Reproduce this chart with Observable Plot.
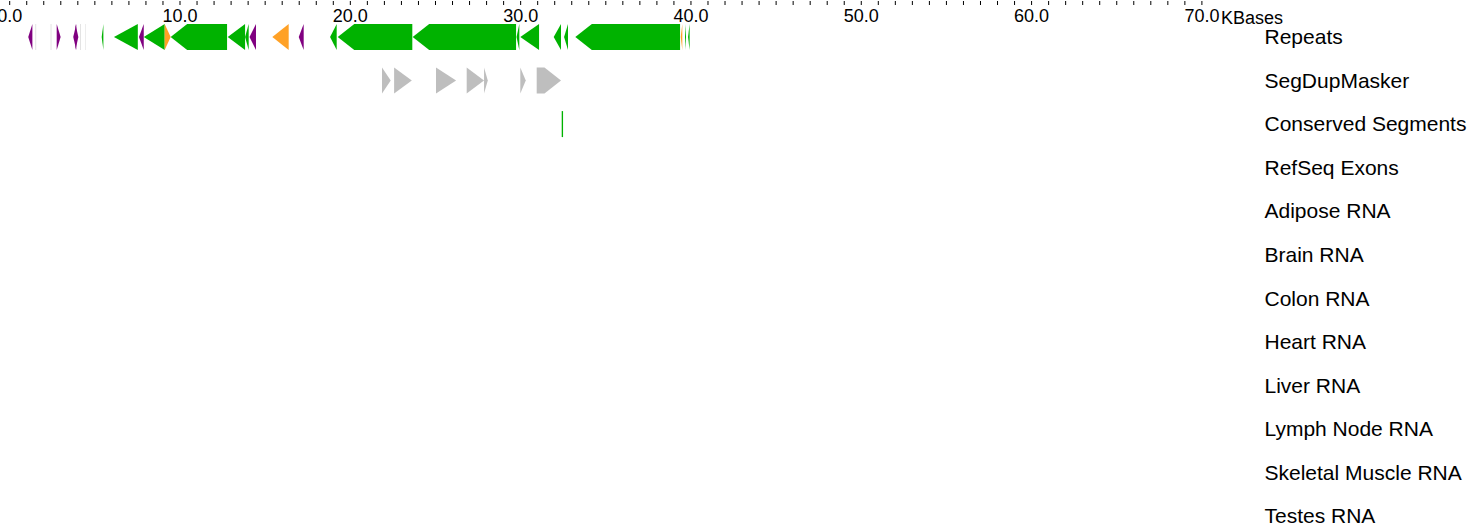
<!DOCTYPE html>
<html>
<head>
<meta charset="utf-8">
<script src="https://cdn.jsdelivr.net/npm/d3@7"></script>
<script src="https://cdn.jsdelivr.net/npm/@observablehq/plot@0.6"></script>
<style>
  html, body { margin: 0; padding: 0; background: white; }
  svg { display: block; }
</style>
</head>
<body>
<div id="chart"></div>
<script>
// Track names (right-hand labels)
const tracks = ["Repeats", "SegDupMasker", "Conserved Segments", "RefSeq Exons",
  "Adipose RNA", "Brain RNA", "Colon RNA", "Heart RNA", "Liver RNA",
  "Lymph Node RNA", "Skeletal Muscle RNA", "Testes RNA"];

// Axis ticks (KBases)
const minorTicks = d3.range(0, 71, 1);
const majorTicks = d3.range(0, 71, 10);

// Feature classes and their colours
const classes = ["SINE", "LINE", "LTR", "Low complexity", "SegDup", "Conserved"];
const classColors = ["#00b200", "#800080", "#ffa126", "#c8c8c8", "#bebebe", "#00b200"];

// Features: track index, start (kb), end (kb), strand, class
const featTrack  = [0,0,0,0,0,0,0,0,0,0,0,0,0,0,0,0,0,0,0,0,0,0,0,0,0,0,0,0,0,0,
                    1,1,1,1,1,1,1,
                    2];
const featStart  = [1.12,1.55,2.44,2.79,3.76,3.89,4.16,4.45,5.43,6.15,7.62,7.90,9.13,9.48,12.83,13.85,14.11,15.45,17.00,18.84,19.29,23.69,29.79,30.01,31.97,32.58,33.24,39.43,39.68,39.86,
                    21.89,22.60,25.06,26.86,27.88,30.01,30.97,
                    32.44];
const featEnd    = [1.36,1.58,2.47,3.02,3.94,4.06,4.19,4.47,5.53,7.55,7.90,9.13,9.48,12.79,13.85,14.06,14.49,16.41,17.29,19.23,23.67,29.76,29.95,31.11,32.40,32.81,39.39,39.52,39.74,39.95,
                    22.40,23.64,26.24,27.88,28.10,30.33,32.40,
                    32.52];
const featStrand = ["-",".",".","+","-","+",".",".","-","-","-","-","+","-","-","-","-","-","-","-","-","-","-","-","-","-","-","-","-","-",
                    "+","+","+","+","+","+","+",
                    "."];
const featClass  = ["LINE","Low complexity","Low complexity","LINE","LINE","LINE","Low complexity","Low complexity","SINE","SINE","LINE","SINE","LTR","SINE","SINE","SINE","LINE","LTR","LINE","SINE","SINE","SINE","SINE","SINE","SINE","SINE","SINE","LTR","SINE","SINE",
                    "SegDup","SegDup","SegDup","SegDup","SegDup","SegDup","SegDup",
                    "Conserved"];

// Shape styling
const HEAD = 0.97;       // arrow head length (kb) for long features
const FULL_TRI = 1.42;   // features up to this length are drawn as a full triangle
const HALF = 0.2985;     // half of feature height (track units)

// Build the polygon table Plot.area needs
const rows = [];
featStart.forEach((s, i) => {
  const e = featEnd[i], c = featTrack[i], len = e - s;
  const hd = len <= FULL_TRI ? len : HEAD;
  const cls = featClass[i];
  let pts;
  if (featStrand[i] === "-") {
    pts = [[s, c, c], [s + hd, c - HALF, c + HALF], [e, c - HALF, c + HALF]];
  } else if (featStrand[i] === "+") {
    pts = [[s, c - HALF, c + HALF], [e - hd, c - HALF, c + HALF], [e, c, c]];
  } else {
    pts = [[s, c - HALF, c + HALF], [e, c - HALF, c + HALF]];
  }
  pts.forEach(([x, y1, y2]) => rows.push({id: i, x, y1, y2, cls}));
});

const chart = Plot.plot({
  width: 1470,
  height: 524,
  marginTop: 4,
  marginLeft: 9.2,
  marginRight: 268.6,
  marginBottom: 0,
  x: {domain: [0, 70]},
  y: {domain: [0, 11], range: [37, 516]},
  color: {domain: classes, range: classColors},
  style: {fontFamily: "'Liberation Sans', Arial, sans-serif", background: "white", color: "black"},
  marks: [
    Plot.axisX(minorTicks, {anchor: "top", tickSize: 4, tickFormat: () => "", label: null}),
    Plot.axisX(majorTicks, {anchor: "top", tickSize: 0, tickPadding: 0, tickFormat: d3.format(".1f"), fontSize: 18, dy: 17, label: null}),
    Plot.text(["KBases"], {frameAnchor: "top-right", textAnchor: "start", dx: 19, dy: 7, fontSize: 18, fill: "black"}),
    Plot.axisY(d3.range(tracks.length), {anchor: "right", tickSize: 0, tickPadding: 62.6, tickFormat: i => tracks[i], fontSize: 21, label: null}),
    Plot.area(rows, {x1: "x", y1: "y1", y2: "y2", z: "id", fill: "cls", curve: "linear"})
  ]
});
document.getElementById("chart").appendChild(chart);
</script>
</body>
</html>
